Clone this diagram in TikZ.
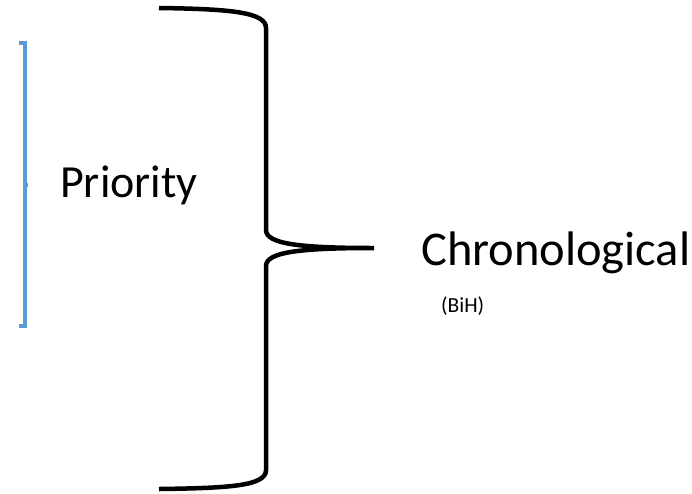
\documentclass[tikz,border=0pt]{standalone}
\usepackage{fontspec}
\setmainfont{Carlito}
\definecolor{bracketblue}{HTML}{5B9BD5}
\begin{document}
\begin{tikzpicture}[x=1pt,y=-1pt,
  labeltext/.style={inner sep=0pt, anchor=base west},
  bluebar/.style={draw=bracketblue, line width=4pt},
  bracebar/.style={draw=black, line width=4.5pt, line cap=butt}]
\useasboundingbox (0,0) rectangle (692,493);

% blue bracket on the left
\coordinate (bt) at (24.5,43);
\coordinate (bb) at (24.5,326);
\coordinate (bm) at (24.5,185);
\draw[bluebar] (19,43) -- (bt) -- (bb) -- (19,326);
\draw[bluebar] (bm) -- (28,185);

% labels
\node[labeltext, font=\fontsize{46}{55}\selectfont] (prio) at (60,197) {Priority};
\node[labeltext, font=\fontsize{48.5}{58}\selectfont] (chrono) at (421,265) {Chronological};
\node[labeltext, font=\fontsize{21.5}{26}\selectfont] (bih) at (441,312) {(BiH)};

% large right curly brace
\coordinate (top) at (159,8);
\coordinate (bot) at (159,489);
\coordinate (tip) at (374,248);
\draw[bracebar]
  (top) .. controls (230,9) and (266,12) .. (266,28)
  -- (266,230)
  .. controls (266,244) and (300,248) .. (tip)
  .. controls (300,248) and (266,252) .. (266,266)
  -- (266,470)
  .. controls (266,486) and (230,488) .. (bot);
\end{tikzpicture}
\end{document}
